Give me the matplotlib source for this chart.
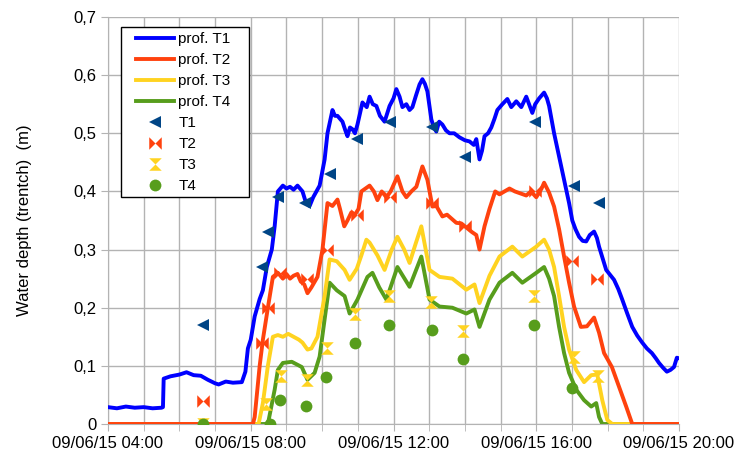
import matplotlib
matplotlib.use('Agg')
import matplotlib.pyplot as plt
import matplotlib.dates as mdates
from matplotlib.ticker import FuncFormatter, MultipleLocator
from matplotlib.patches import Rectangle
import numpy as np
import pandas as pd

plt.rcParams['font.family'] = ['Liberation Sans', 'DejaVu Sans']

day = pd.Timestamp('2015-06-09')

# profile T1 (hours of day, depth m)
t1_h = [4.00, 4.25, 4.50, 4.75, 5.00, 5.25, 5.50, 5.54, 5.56, 5.75, 6.00, 6.20, 6.40, 6.60,
        6.80, 7.00, 7.10, 7.30, 7.50, 7.75, 7.85, 7.92, 8.00, 8.11, 8.25, 8.34, 8.45, 8.59,
        8.67, 8.76, 8.90, 9.00, 9.10, 9.20, 9.31, 9.45, 9.55, 9.65, 9.75, 9.93, 10.07, 10.15,
        10.29, 10.36, 10.43, 10.57, 10.65, 10.71, 10.78, 10.85, 10.92, 10.99, 11.13, 11.25,
        11.33, 11.42, 11.52, 11.62, 11.75, 11.89, 12.00, 12.08, 12.17, 12.25, 12.36, 12.45,
        12.53, 12.63, 12.73, 12.81, 12.88, 12.95, 13.06, 13.13, 13.20, 13.28, 13.37, 13.47,
        13.57, 13.70, 13.85, 14.00, 14.13, 14.25, 14.32, 14.41, 14.48, 14.55, 14.65, 14.74,
        14.83, 14.91, 15.05, 15.19, 15.30, 15.44, 15.58, 15.72, 15.80, 15.89, 15.97, 16.08,
        16.22, 16.30, 16.36, 16.50, 16.64, 16.78, 16.92, 17.01, 17.10, 17.20, 17.30, 17.40,
        17.50, 17.62, 17.70, 17.76, 17.86, 17.96, 18.05, 18.18, 18.30, 18.41, 18.55, 18.69,
        18.83, 18.97, 19.10, 19.24, 19.35, 19.44, 19.55, 19.66, 19.76, 19.86, 19.94, 20.00]
t1_v = [0.029, 0.027, 0.030, 0.028, 0.029, 0.027, 0.028, 0.029, 0.078, 0.082, 0.085, 0.089,
        0.084, 0.083, 0.076, 0.070, 0.068, 0.073, 0.071, 0.072, 0.090, 0.130, 0.145, 0.185,
        0.215, 0.230, 0.270, 0.300, 0.340, 0.400, 0.410, 0.405, 0.408, 0.403, 0.410, 0.400,
        0.380, 0.375, 0.390, 0.410, 0.455, 0.500, 0.540, 0.530, 0.530, 0.520, 0.505, 0.495,
        0.510, 0.507, 0.500, 0.515, 0.553, 0.545, 0.563, 0.550, 0.547, 0.530, 0.520, 0.547,
        0.560, 0.576, 0.563, 0.545, 0.550, 0.540, 0.545, 0.565, 0.584, 0.593, 0.585, 0.572,
        0.524, 0.510, 0.503, 0.520, 0.515, 0.505, 0.500, 0.500, 0.493, 0.488, 0.486, 0.480,
        0.490, 0.455, 0.470, 0.495, 0.500, 0.510, 0.525, 0.540, 0.550, 0.559, 0.545, 0.555,
        0.545, 0.563, 0.550, 0.535, 0.550, 0.560, 0.570, 0.560, 0.547, 0.500, 0.460, 0.420,
        0.380, 0.350, 0.335, 0.322, 0.315, 0.314, 0.325, 0.331, 0.320, 0.305, 0.285, 0.265,
        0.258, 0.248, 0.232, 0.214, 0.190, 0.167, 0.152, 0.140, 0.130, 0.122, 0.113, 0.105,
        0.097, 0.090, 0.093, 0.098, 0.114, 0.113]

# profile T2
t2_h = [4.00, 8.06, 8.11, 8.25, 8.34, 8.48, 8.62, 8.76, 8.90, 9.00, 9.10, 9.20, 9.31, 9.40,
        9.50, 9.59, 9.70, 9.87, 10.01, 10.15, 10.29, 10.43, 10.50, 10.62, 10.71, 10.82, 10.92,
        11.02, 11.10, 11.33, 11.45, 11.55, 11.67, 11.80, 11.92, 12.11, 12.25, 12.36, 12.50,
        12.64, 12.81, 12.95, 13.09, 13.20, 13.37, 13.50, 13.76, 13.90, 14.04, 14.20, 14.32,
        14.41, 14.55, 14.69, 14.85, 14.97, 15.25, 15.40, 15.72, 15.85, 16.00, 16.15, 16.22,
        16.36, 16.50, 16.64, 16.78, 16.92, 17.06, 17.25, 17.42, 17.62, 17.76, 17.90, 18.12,
        18.32, 18.52, 18.69, 20.00]
t2_v = [0.0, 0.0, 0.012, 0.100, 0.145, 0.200, 0.253, 0.260, 0.250, 0.258, 0.250, 0.255,
        0.258, 0.245, 0.240, 0.225, 0.235, 0.253, 0.300, 0.380, 0.375, 0.386, 0.370, 0.340,
        0.350, 0.364, 0.360, 0.370, 0.400, 0.410, 0.400, 0.385, 0.400, 0.390, 0.400, 0.426,
        0.400, 0.390, 0.400, 0.408, 0.443, 0.420, 0.374, 0.375, 0.357, 0.360, 0.346, 0.345,
        0.338, 0.330, 0.325, 0.300, 0.340, 0.370, 0.400, 0.395, 0.405, 0.400, 0.393, 0.400,
        0.390, 0.405, 0.415, 0.398, 0.374, 0.335, 0.288, 0.243, 0.202, 0.167, 0.168, 0.183,
        0.157, 0.122, 0.098, 0.064, 0.030, 0.0, 0.0]

# profile T3
t3_h = [4.00, 8.22, 8.34, 8.48, 8.62, 8.76, 8.90, 9.05, 9.20, 9.35, 9.45, 9.59, 9.70, 9.87,
        10.07, 10.21, 10.41, 10.63, 10.77, 10.97, 11.10, 11.24, 11.33, 11.55, 11.75, 11.95,
        12.11, 12.30, 12.45, 12.62, 12.78, 13.01, 13.29, 13.65, 14.04, 14.27, 14.41, 14.69,
        14.97, 15.33, 15.61, 16.00, 16.22, 16.36, 16.50, 16.64, 16.78, 16.92, 17.12, 17.34,
        17.54, 17.71, 17.85, 17.99, 18.13, 20.00]
t3_v = [0.0, 0.0, 0.036, 0.100, 0.150, 0.153, 0.150, 0.155, 0.150, 0.145, 0.140, 0.128,
        0.130, 0.150, 0.220, 0.283, 0.280, 0.265, 0.248, 0.267, 0.290, 0.317, 0.312, 0.290,
        0.265, 0.300, 0.322, 0.300, 0.277, 0.310, 0.340, 0.265, 0.253, 0.250, 0.231, 0.240,
        0.208, 0.255, 0.288, 0.305, 0.288, 0.305, 0.317, 0.300, 0.270, 0.220, 0.167, 0.128,
        0.093, 0.072, 0.084, 0.085, 0.041, 0.007, 0.0, 0.0]

# profile T4
t4_h = [4.00, 8.39, 8.48, 8.67, 8.76, 8.90, 9.15, 9.43, 9.59, 9.79, 9.93, 10.07, 10.21,
        10.41, 10.63, 10.77, 10.99, 11.27, 11.41, 11.60, 11.80, 12.11, 12.45, 12.78, 13.01,
        13.29, 13.65, 14.04, 14.27, 14.41, 14.69, 14.97, 15.33, 15.61, 16.00, 16.22, 16.36,
        16.50, 16.64, 16.78, 16.92, 17.12, 17.34, 17.54, 17.68, 17.76, 17.85, 20.00]
t4_v = [0.0, 0.0, 0.0, 0.059, 0.093, 0.105, 0.107, 0.098, 0.076, 0.088, 0.116, 0.180,
        0.243, 0.230, 0.220, 0.190, 0.214, 0.253, 0.260, 0.235, 0.214, 0.270, 0.236, 0.288,
        0.214, 0.202, 0.200, 0.190, 0.197, 0.167, 0.214, 0.243, 0.260, 0.243, 0.260, 0.270,
        0.250, 0.220, 0.167, 0.122, 0.088, 0.059, 0.041, 0.030, 0.036, 0.012, 0.0, 0.0]

# point measurements
m1_h = [6.66, 8.31, 8.48, 8.76, 9.51, 10.21, 10.97, 11.89, 13.09, 13.99, 15.97, 17.06, 17.76]
m1_v = [0.17, 0.27, 0.33, 0.39, 0.38, 0.43, 0.49, 0.52, 0.51, 0.46, 0.52, 0.41, 0.38]
m2_h = [6.66, 8.31, 8.48, 8.81, 9.59, 10.15, 10.97, 11.89, 13.09, 13.99, 15.97, 17.00, 17.71]
m2_v = [0.04, 0.14, 0.20, 0.26, 0.25, 0.30, 0.36, 0.39, 0.38, 0.34, 0.40, 0.28, 0.25]
m3_h = [6.66, 8.42, 8.84, 9.57, 10.15, 10.92, 11.86, 13.06, 13.96, 15.94, 17.06, 17.73]
m3_v = [0.0, 0.035, 0.083, 0.076, 0.13, 0.19, 0.22, 0.21, 0.16, 0.22, 0.115, 0.083]
m4_h = [6.66, 8.53, 8.81, 9.54, 10.12, 10.92, 11.86, 13.09, 13.96, 15.94, 17.00]
m4_v = [0.0, 0.0, 0.041, 0.031, 0.08, 0.14, 0.17, 0.162, 0.112, 0.17, 0.062]


def to_time(h):
    return day + pd.to_timedelta(np.array(h), unit='h')


bowtie = [(-1, 1), (-1, -1), (0, 0), (1, -1), (1, 1), (0, 0), (-1, 1)]
hourglass = [(-1, 1), (1, 1), (0, 0), (1, -1), (-1, -1), (0, 0), (-1, 1)]

fig = plt.figure(figsize=(7.34, 4.55), dpi=100)
ax = fig.add_axes([108 / 734, 1 - 424 / 455, 571 / 734, 407 / 455])

lw = 2.8
l1, = ax.plot(to_time(t1_h), t1_v, color='#0000ff', lw=lw, zorder=5, label='prof. T1')
l2, = ax.plot(to_time(t2_h), t2_v, color='#ff420e', lw=lw, zorder=4, label='prof. T2')
l3, = ax.plot(to_time(t3_h), t3_v, color='#ffd320', lw=lw, zorder=3, label='prof. T3')
l4, = ax.plot(to_time(t4_h), t4_v, color='#579d1c', lw=lw, zorder=2, label='prof. T4')

p1, = ax.plot(to_time(m1_h), m1_v, ls='none', marker='<', ms=9, color='#004586', mew=0, zorder=6, label='T1')
p2, = ax.plot(to_time(m2_h), m2_v, ls='none', marker=bowtie, ms=9, color='#ff420e', mew=0, zorder=6, label='T2')
p3, = ax.plot(to_time(m3_h), m3_v, ls='none', marker=hourglass, ms=9, color='#ffd320', mew=0, zorder=6, label='T3')
p4, = ax.plot(to_time(m4_h), m4_v, ls='none', marker='o', ms=8.5, color='#579d1c', mew=0, zorder=6, label='T4')

ax.set_xlim(day + pd.Timedelta(hours=4), day + pd.Timedelta(hours=20))
ax.set_ylim(0, 0.7)
ax.xaxis.set_major_locator(mdates.HourLocator(byhour=[4, 8, 12, 16, 20]))
ax.xaxis.set_minor_locator(mdates.HourLocator())
ax.xaxis.set_major_formatter(mdates.DateFormatter('%d/%m/%y %H:%M'))
ax.yaxis.set_major_locator(MultipleLocator(0.1))
ax.yaxis.set_major_formatter(FuncFormatter(lambda v, p: '0' if abs(v) < 1e-9 else f'{v:.1f}'.replace('.', ',')))

ax.grid(True, which='both', color='#b3b3b3', lw=1)
ax.set_axisbelow(True)
for s in ['top', 'right']:
    ax.spines[s].set_visible(False)
for s in ['left', 'bottom']:
    ax.spines[s].set_color('#b3b3b3')
ax.tick_params(axis='both', which='both', colors='#b3b3b3', labelcolor='black', labelsize=12, length=5)
ax.set_ylabel('Water depth (trentch)  (m)', fontsize=12)
ax.yaxis.set_label_coords(-0.133, 0.5)

# legend box drawn as a patch, legend itself without frame
ax.add_patch(Rectangle((121 / 734, 1 - 197 / 455), 128 / 734, 170 / 455,
                       transform=fig.transFigure, facecolor='white',
                       edgecolor='black', lw=1, zorder=9, clip_on=False))
leg = ax.legend(handles=[l1, l2, l3, l4, p1, p2, p3, p4], loc='upper left',
                bbox_to_anchor=(136 / 734, 1 - 32 / 455), bbox_transform=fig.transFigure,
                borderaxespad=0, borderpad=0, fontsize=11, frameon=False,
                labelspacing=0.46, handlelength=2.5, handletextpad=0.27, numpoints=1)
leg.set_zorder(10)

fig.savefig('out.png', dpi=100)
